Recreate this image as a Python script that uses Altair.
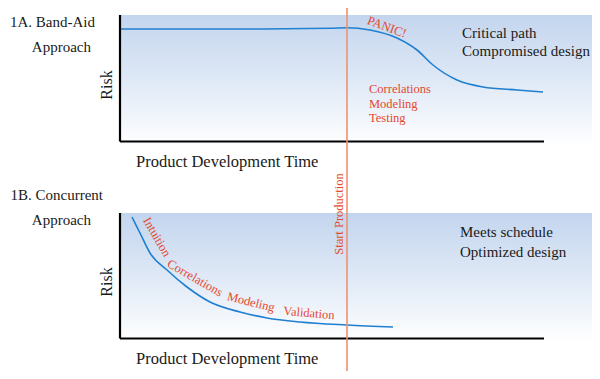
import altair as alt
import pandas as pd

# Curves (pixel-like coordinates: x = development time, y = risk position)
top_x = [120, 250, 330, 347, 370, 397, 417, 433, 457, 483, 517, 543]
top_y = [29, 29, 28.3, 27.7, 30, 38, 50, 65, 80, 87, 90, 92]
bot_x = [132, 140, 150, 167, 187, 210, 240, 267, 300, 347, 393]
bot_y = [217, 233, 253, 270, 287, 302, 312, 318, 322, 325, 327]

# Annotation texts
ann_text = ["1A. Band-Aid", "Approach", "1B. Concurrent", "Approach",
            "Critical path", "Compromised design", "Meets  schedule", "Optimized design"]
ann_x = [95, 91, 103, 91, 462, 462, 460, 460]
ann_y = [22, 47, 195, 220, 33, 51, 232, 252]
ann_align = ["right", "right", "right", "right", "left", "left", "left", "left"]

xlab_text = ["Product Development Time", "Product Development Time"]
xlab_x = [136, 136]
xlab_y = [162, 359]

risk_x = [107, 107]
risk_y = [85, 282]

red_text = ["PANIC!", "Correlations", "Modeling", "Testing",
            "Intuition", "Correlations", "Modeling", "Validation", "Start Production"]
red_x = [387, 369, 369, 369, 157, 195, 251, 309, 339]
red_y = [27, 89, 104, 118, 237, 278, 302, 313, 214]
red_angle = [20, 0, 0, 0, 60, 30, 14, 5, 270]
red_align = ["center", "left", "left", "left", "center", "center", "center", "center", "center"]

W, H = 584, 363
xs = alt.Scale(domain=[8, 8 + W], nice=False, zero=False)
ys = alt.Scale(domain=[8, 8 + H], nice=False, zero=False, reverse=True)
FONT = "Liberation Serif"

grad = alt.LinearGradient(
    gradient="linear", x1=0, x2=0, y1=0, y2=1,
    stops=[alt.GradientStop(color="#c3d5ee", offset=0),
           alt.GradientStop(color="#e2ebf7", offset=0.55),
           alt.GradientStop(color="#ffffff", offset=1)])

panels = pd.DataFrame({"x": [120, 120], "x2": [600, 600], "y": [15, 213], "y2": [146, 342]})
bg = alt.Chart(panels).mark_rect(color=grad).encode(
    x=alt.X("x:Q", scale=xs, axis=None), x2="x2:Q",
    y=alt.Y("y:Q", scale=ys, axis=None), y2="y2:Q")

axes_df = pd.DataFrame({
    "x": [120, 120, 120, 120], "x2": [120, 544, 120, 544],
    "y": [15, 141.5, 213, 338.5], "y2": [141.5, 141.5, 338.5, 338.5]})
axes = alt.Chart(axes_df).mark_rule(color="black", strokeWidth=2.2).encode(
    x=alt.X("x:Q", scale=xs, axis=None), x2="x2:Q",
    y=alt.Y("y:Q", scale=ys, axis=None), y2="y2:Q")

curves = pd.DataFrame({
    "x": top_x + bot_x, "y": top_y + bot_y,
    "s": ["top"] * len(top_x) + ["bot"] * len(bot_x)})
lines = alt.Chart(curves).mark_line(color="#1f7fd0", strokeWidth=1.6, interpolate="monotone").encode(
    x=alt.X("x:Q", scale=xs, axis=None), y=alt.Y("y:Q", scale=ys, axis=None),
    detail="s:N", order="x:Q")

start = pd.DataFrame({"x": [347], "y": [8], "y2": [8 + H]})
vline = alt.Chart(start).mark_rule(color="#f2906e", strokeWidth=1.6).encode(
    x=alt.X("x:Q", scale=xs, axis=None),
    y=alt.Y("y:Q", scale=ys, axis=None), y2="y2:Q")

ann = pd.DataFrame({"t": ann_text, "x": ann_x, "y": ann_y, "a": ann_align})
texts = []
for al in ["left", "right"]:
    d = ann[ann["a"] == al]
    texts.append(alt.Chart(d).mark_text(font=FONT, fontSize=15, color="#1a1a1a",
                                        align=al, baseline="middle").encode(
        x=alt.X("x:Q", scale=xs, axis=None), y=alt.Y("y:Q", scale=ys, axis=None), text="t:N"))

xlab = pd.DataFrame({"t": xlab_text, "x": xlab_x, "y": xlab_y})
xlab_t = alt.Chart(xlab).mark_text(font=FONT, fontSize=16.5, color="#1a1a1a",
                                   align="left", baseline="middle").encode(
    x=alt.X("x:Q", scale=xs, axis=None), y=alt.Y("y:Q", scale=ys, axis=None), text="t:N")

risk = pd.DataFrame({"t": ["Risk", "Risk"], "x": risk_x, "y": risk_y})
risk_t = alt.Chart(risk).mark_text(font=FONT, fontSize=16, color="#1a1a1a", angle=270,
                                   align="center", baseline="middle").encode(
    x=alt.X("x:Q", scale=xs, axis=None), y=alt.Y("y:Q", scale=ys, axis=None), text="t:N")

red = pd.DataFrame({"t": red_text, "x": red_x, "y": red_y, "ang": red_angle, "a": red_align})
reds = []
for al in ["left", "center"]:
    d = red[red["a"] == al]
    reds.append(alt.Chart(d).mark_text(font=FONT, fontSize=12.5, color="#e5482e",
                                       align=al, baseline="middle").encode(
        x=alt.X("x:Q", scale=xs, axis=None), y=alt.Y("y:Q", scale=ys, axis=None),
        text="t:N", angle=alt.Angle("ang:Q", scale=None)))

chart = alt.layer(bg, lines, axes, vline, *texts, xlab_t, risk_t, *reds).properties(
    width=W, height=H, padding=0, autosize="none"
).configure_view(stroke=None)

chart.save("out.html", embed_options={"renderer": "svg", "actions": False})
